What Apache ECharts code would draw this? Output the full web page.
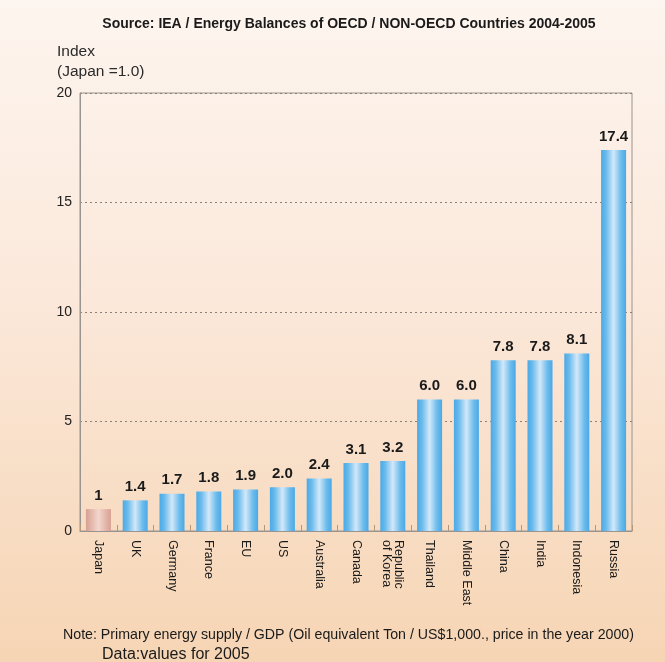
<!DOCTYPE html>
<html>
<head>
<meta charset="utf-8">
<script src="https://cdn.jsdelivr.net/npm/echarts@6/dist/echarts.min.js"></script>
<style>
html,body{margin:0;padding:0;}
#c{width:665px;height:662px;}
</style>
</head>
<body>
<div id="c"></div>
<script>
const categories = ['Japan','UK','Germany','France','EU','US','Australia','Canada','Republic\nof Korea','Thailand','Middle East','China','India','Indonesia','Russia'];
const values = [1.0,1.4,1.7,1.8,1.9,2.0,2.4,3.1,3.2,6.0,6.0,7.8,7.8,8.1,17.4];
const valueLabels = ['1','1.4','1.7','1.8','1.9','2.0','2.4','3.1','3.2','6.0','6.0','7.8','7.8','8.1','17.4'];
const yTicks = [0,5,10,15,20];

const blue = new echarts.graphic.LinearGradient(0,0,1,0,[
  {offset:0,color:'#4aa9e6'},{offset:0.2,color:'#6bbbec'},{offset:0.5,color:'#d2e8f9'},{offset:0.8,color:'#6bbbec'},{offset:1,color:'#4aa9e6'}]);
const pink = new echarts.graphic.LinearGradient(0,0,1,0,[
  {offset:0,color:'#d89f92'},{offset:0.5,color:'#f3d6cd'},{offset:1,color:'#d89f92'}]);

const chart = echarts.init(document.getElementById('c'));
chart.setOption({
  backgroundColor: new echarts.graphic.LinearGradient(0,0,0,1,[
    {offset:0,color:'#fdf5ef'},{offset:0.45,color:'#fbe8da'},{offset:1,color:'#f6d5b4'}]),
  title: [
    {text:'Source: IEA / Energy Balances of OECD / NON-OECD Countries 2004-2005', left:344, top:12, textAlign:'center',
     textStyle:{fontFamily:'Liberation Sans', fontSize:14, fontWeight:'bold', color:'#1a1a1a'}},
    {text:'Index\n(Japan =1.0)', left:52, top:37,
     textStyle:{fontFamily:'Liberation Sans', fontSize:15.5, fontWeight:'normal', color:'#2a2a2a', lineHeight:20}},
    {text:'Note: Primary energy supply / GDP (Oil equivalent Ton / US$1,000., price in the year 2000)', left:58, top:623,
     textStyle:{fontFamily:'Liberation Sans', fontSize:14.2, fontWeight:'normal', color:'#1a1a1a'}},
    {text:'Data:values for 2005', left:97, top:641,
     textStyle:{fontFamily:'Liberation Sans', fontSize:16, fontWeight:'normal', color:'#1a1a1a', lineHeight:17}}
  ],
  grid:{left:80, right:33, top:93, bottom:131, show:true, borderColor:'#9a9490', borderWidth:1, backgroundColor:'transparent'},
  xAxis:{
    type:'category', data:categories,
    axisLine:{lineStyle:{color:'#9a9490', width:1}},
    axisTick:{show:true, inside:true, length:6, lineStyle:{color:'#b4987c'}},
    axisLabel:{rotate:-90, interval:0, fontFamily:'Liberation Sans', fontSize:12.5, color:'#1a1a1a', margin:9, lineHeight:12, align:'left', verticalAlign:'middle'}
  },
  yAxis:{
    type:'value', min:yTicks[0], max:yTicks[yTicks.length-1], interval:5,
    axisLine:{show:true, lineStyle:{color:'#9a9490'}},
    axisTick:{show:false},
    axisLabel:{fontFamily:'Liberation Sans', fontSize:14, color:'#222', margin:8},
    splitLine:{show:true, lineStyle:{type:[2,3], color:'#8a8078', width:1.2}}
  },
  series:[{
    type:'bar', barWidth:25,
    data: values.map((v,i)=>({value:v, itemStyle:{color: i===0 ? pink : blue}})),
    label:{show:true, position:'top', distance:6, fontFamily:'Liberation Sans', fontSize:15, fontWeight:'bold', color:'#1a1a1a',
      formatter:(p)=>valueLabels[p.dataIndex]}
  }]
});
</script>
</body>
</html>
